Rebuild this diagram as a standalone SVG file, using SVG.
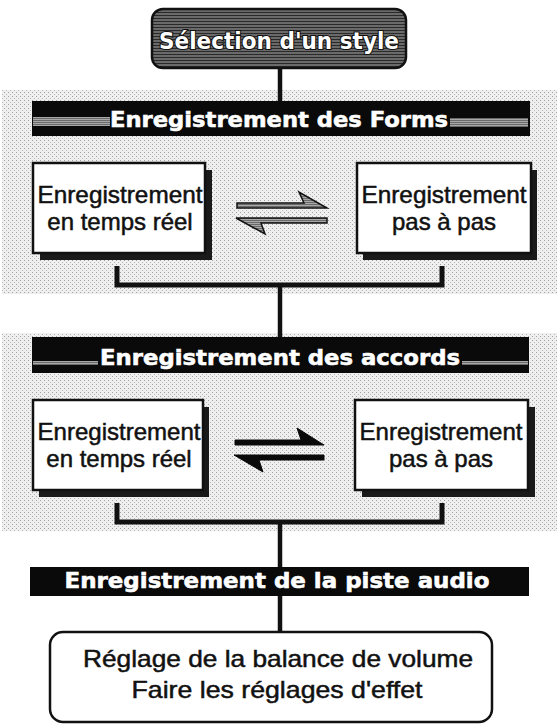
<svg xmlns="http://www.w3.org/2000/svg" width="559" height="726" viewBox="0 0 559 726">
<defs>
<pattern id="stip" width="4" height="4" patternUnits="userSpaceOnUse">
<rect width="4" height="4" fill="#efefef"/>
<rect x="0" y="0" width="1" height="1" fill="#a0a0a0"/>
<rect x="2" y="2" width="1" height="1" fill="#b8b8b8"/>
</pattern>
<pattern id="hatch" width="4" height="3" patternUnits="userSpaceOnUse">
<rect width="4" height="3" fill="#6a6a6a"/>
<rect x="0" y="0" width="4" height="1" fill="#2a2a2a"/>
</pattern>
<pattern id="ghatch" width="3" height="2" patternUnits="userSpaceOnUse">
<rect width="3" height="2" fill="#a8a8a8"/>
<rect x="0" y="0" width="3" height="1" fill="#6a6a6a"/>
</pattern>
<style>
.panel{fill:url(#stip);}
.bar{fill:#0a0a0a;}
.stripe{fill:url(#ghatch);}
.title{font-family:"DejaVu Sans",sans-serif;font-weight:bold;fill:#fff;stroke:#fff;stroke-width:0.6;text-anchor:middle;}
.box{fill:#fff;stroke:#111;stroke-width:2.5;}
.shadow{fill:#1a1a1a;}
.lbl{font-family:"Liberation Sans",Arial,sans-serif;font-size:24px;fill:#111;stroke:#111;stroke-width:0.5;text-anchor:middle;}
.conn{stroke:#111;stroke-width:4.5;fill:none;}
.bracket{stroke:#111;stroke-width:5;fill:none;}
</style>
</defs>
<rect width="559" height="726" fill="#fff"/>

<g id="panel-forms-bg"><rect class="panel" x="2" y="90" width="555" height="204"/></g>
<g id="panel-accords-bg"><rect class="panel" x="2" y="333" width="555" height="198"/></g>

<g id="connectors">
<line class="conn" x1="280" y1="68" x2="280" y2="101"/>
<line class="conn" x1="280" y1="285" x2="280" y2="337"/>
<line class="conn" x1="280" y1="522" x2="280" y2="567"/>
<line class="conn" x1="280" y1="596" x2="280" y2="632"/>
<path class="bracket" d="M117 266 V285 H442 V266"/>
<path class="bracket" d="M117 503 V522 H442 V503"/>
<polygon points="237,203 304,203 299,192 327,208 237,208" fill="url(#ghatch)" stroke="#111" stroke-width="1.5" stroke-linejoin="miter"/>
<polygon points="327,218 327,223 261,223 265,234 236,218" fill="url(#ghatch)" stroke="#111" stroke-width="1.5" stroke-linejoin="miter"/>
<polygon points="235,440 301,440 297,428 324,445 235,445" fill="#0a0a0a" stroke="#0a0a0a" stroke-width="1"/>
<polygon points="324,455 324,460 259,460 263,472 234,455" fill="#0a0a0a" stroke="#0a0a0a" stroke-width="1"/>
</g>

<g id="selection-style">
<rect x="152" y="9" width="254" height="59" rx="11" fill="url(#hatch)" stroke="#111" stroke-width="2.5"/>
<text x="279" y="49" font-family="DejaVu Sans, sans-serif" font-weight="bold" font-size="22.5" fill="#fff" text-anchor="middle" textLength="240" lengthAdjust="spacingAndGlyphs" stroke="#111" stroke-width="2.2" paint-order="stroke">Sélection d'un style</text>
</g>

<g id="bar-forms">
<rect class="bar" x="32" y="101" width="498" height="35"/>
<rect class="stripe" x="33" y="117" width="77" height="9"/>
<rect class="stripe" x="450" y="118" width="78" height="9"/>
<text class="title" x="279" y="127" font-size="22" textLength="338" lengthAdjust="spacingAndGlyphs">Enregistrement des Forms</text>
</g>

<g id="forms-realtime">
<rect class="shadow" x="40" y="170" width="172" height="90"/>
<rect class="box" x="33" y="163" width="172" height="90"/>
<text class="lbl" x="120" y="203" textLength="165" lengthAdjust="spacingAndGlyphs">Enregistrement</text>
<text class="lbl" x="120" y="230">en temps réel</text>
</g>

<g id="forms-step">
<rect class="shadow" x="363" y="170" width="174" height="90"/>
<rect class="box" x="357" y="163" width="174" height="90"/>
<text class="lbl" x="444" y="203" textLength="165" lengthAdjust="spacingAndGlyphs">Enregistrement</text>
<text class="lbl" x="444" y="230">pas à pas</text>
</g>

<g id="bar-accords">
<rect class="bar" x="32" y="337" width="497" height="36"/>
<rect class="stripe" x="33" y="361" width="65" height="4"/>
<rect class="stripe" x="462" y="361" width="66" height="4"/>
<text class="title" x="280" y="365" font-size="22" textLength="360" lengthAdjust="spacingAndGlyphs">Enregistrement des accords</text>
</g>

<g id="accords-realtime">
<rect class="shadow" x="39" y="407" width="170" height="90"/>
<rect class="box" x="33" y="400" width="170" height="90"/>
<text class="lbl" x="119" y="440" textLength="163" lengthAdjust="spacingAndGlyphs">Enregistrement</text>
<text class="lbl" x="119" y="467">en temps réel</text>
</g>

<g id="accords-step">
<rect class="shadow" x="362" y="407" width="173" height="90"/>
<rect class="box" x="355" y="400" width="173" height="90"/>
<text class="lbl" x="441" y="440" textLength="163" lengthAdjust="spacingAndGlyphs">Enregistrement</text>
<text class="lbl" x="441" y="467">pas à pas</text>
</g>

<g id="bar-audio">
<rect class="bar" x="30" y="567" width="499" height="29"/>
<text class="title" x="277" y="588" font-size="22" textLength="425" lengthAdjust="spacingAndGlyphs">Enregistrement de la piste audio</text>
</g>

<g id="mix-settings">
<rect x="50" y="632" width="442" height="90" rx="13" fill="#fff" stroke="#111" stroke-width="2.5"/>
<text class="lbl" x="278" y="667" font-size="25" textLength="390" lengthAdjust="spacingAndGlyphs">Réglage de la balance de volume</text>
<text class="lbl" x="277" y="698" font-size="25" textLength="291" lengthAdjust="spacingAndGlyphs">Faire les réglages d'effet</text>
</g>
</svg>
